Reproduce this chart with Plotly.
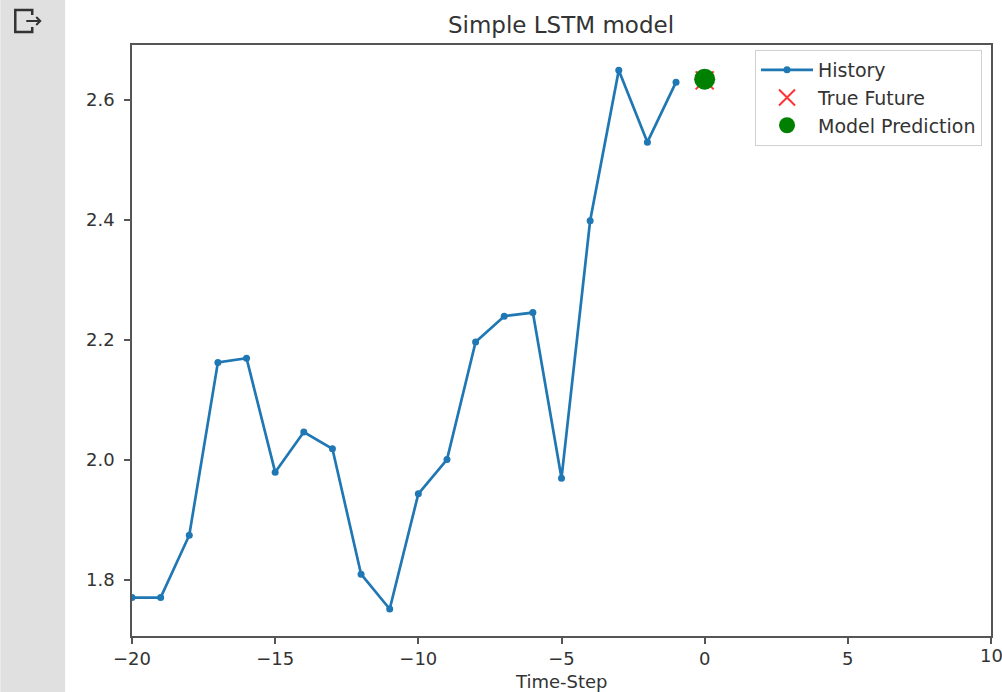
import plotly.graph_objects as go

# ---- data ----
history_steps = list(range(-20, 0))
history_values = [1.770, 1.770, 1.874, 2.162, 2.169, 1.979, 2.046, 2.018, 1.809, 1.751,
                  1.943, 2.000, 2.196, 2.239, 2.245, 1.969, 2.398, 2.649, 2.529, 2.629]
future_step = [0]
true_future = [2.632]
model_prediction = [2.634]

x_ticks = [-20, -15, -10, -5, 0, 5, 10]
y_ticks = [1.8, 2.0, 2.2, 2.4, 2.6]

W, H = 1002, 692
L, R, T, B = 132, 993, 45, 636

def px(x):
    return (x - L) / (R - L)

def py(y):
    return (B - y) / (B - T)

FONT = "DejaVu Sans"
TXT = "#333333"

fig = go.Figure()
fig.add_trace(go.Scatter(x=history_steps, y=history_values, mode="lines+markers",
                         name="History",
                         line=dict(color="#1f77b4", width=2.7),
                         marker=dict(color="#1f77b4", size=7)))
fig.add_trace(go.Scatter(x=future_step, y=true_future, mode="markers", name="True Future",
                         marker=dict(symbol="x-thin", size=18, color="red",
                                     line=dict(color="rgba(255,0,0,0.8)", width=2))))
fig.add_trace(go.Scatter(x=future_step, y=model_prediction, mode="markers",
                         name="Model Prediction",
                         marker=dict(symbol="circle", size=21, color="green")))

axis_common = dict(showgrid=False, zeroline=False, showline=True, mirror=True,
                   linecolor="#555555", linewidth=1.5, ticks="outside", ticklen=6,
                   tickwidth=1.5, tickcolor="#555555",
                   tickfont=dict(family=FONT, size=18, color=TXT))

shapes = [
    dict(type="rect", xref="paper", yref="paper", x0=px(0), x1=px(65),
         y0=py(H + 5), y1=py(-5), fillcolor="#e0e0e0", line=dict(width=0), layer="below"),
]
bracket = "M {} {} L {} {} L {} {} L {} {} L {} {} L {} {}".format(
    px(32), py(15), px(32), py(10), px(15), py(10), px(15), py(32), px(32), py(32), px(32), py(27))
arrow = "M {} {} L {} {} M {} {} L {} {} L {} {}".format(
    px(26), py(21), px(40), py(21), px(36), py(17), px(40), py(21), px(36), py(25))
shapes.append(dict(type="path", xref="paper", yref="paper", path=bracket,
                   line=dict(color="#333333", width=2.5)))
shapes.append(dict(type="path", xref="paper", yref="paper", path=arrow,
                   line=dict(color="#333333", width=2)))

# the last x tick label sits at the figure edge; plotly drops it, so place it as text
edge_label = dict(text=str(x_ticks[-1]), xref="x", yref="paper", x=x_ticks[-1],
                  y=py(643), xanchor="center", yanchor="top", showarrow=False,
                  font=dict(family=FONT, size=18, color=TXT))

fig.update_layout(
    width=W, height=H,
    margin=dict(l=L, r=W - R, t=T, b=H - B, pad=0),
    paper_bgcolor="white", plot_bgcolor="white",
    font=dict(family=FONT, color=TXT, size=18),
    title=dict(text="Simple LSTM model", x=px(562), xanchor="center",
               xref="paper", y=1 - 25 / H, yref="container", yanchor="middle",
               font=dict(family=FONT, size=23, color=TXT)),
    xaxis=dict(range=[-20, 10], tickvals=x_ticks, ticklabelstandoff=0, **axis_common),
    yaxis=dict(range=[1.706, 2.691], tickvals=y_ticks, tickformat=".1f",
               ticklabelstandoff=6, **axis_common),
    legend=dict(x=px(984), xanchor="right", y=py(50), yanchor="top",
                bgcolor="rgba(255,255,255,0.8)", bordercolor="#d0d0d0", borderwidth=1,
                font=dict(family=FONT, size=19, color=TXT), itemwidth=52,
                tracegroupgap=0),
    showlegend=True,
    shapes=shapes,
    annotations=[dict(text="Time-Step", xref="paper", yref="paper", x=px(563),
                      y=py(681), xanchor="center", yanchor="middle", showarrow=False,
                      font=dict(family=FONT, size=18, color=TXT)),
                 edge_label],
)

fig.write_html("out.html")
